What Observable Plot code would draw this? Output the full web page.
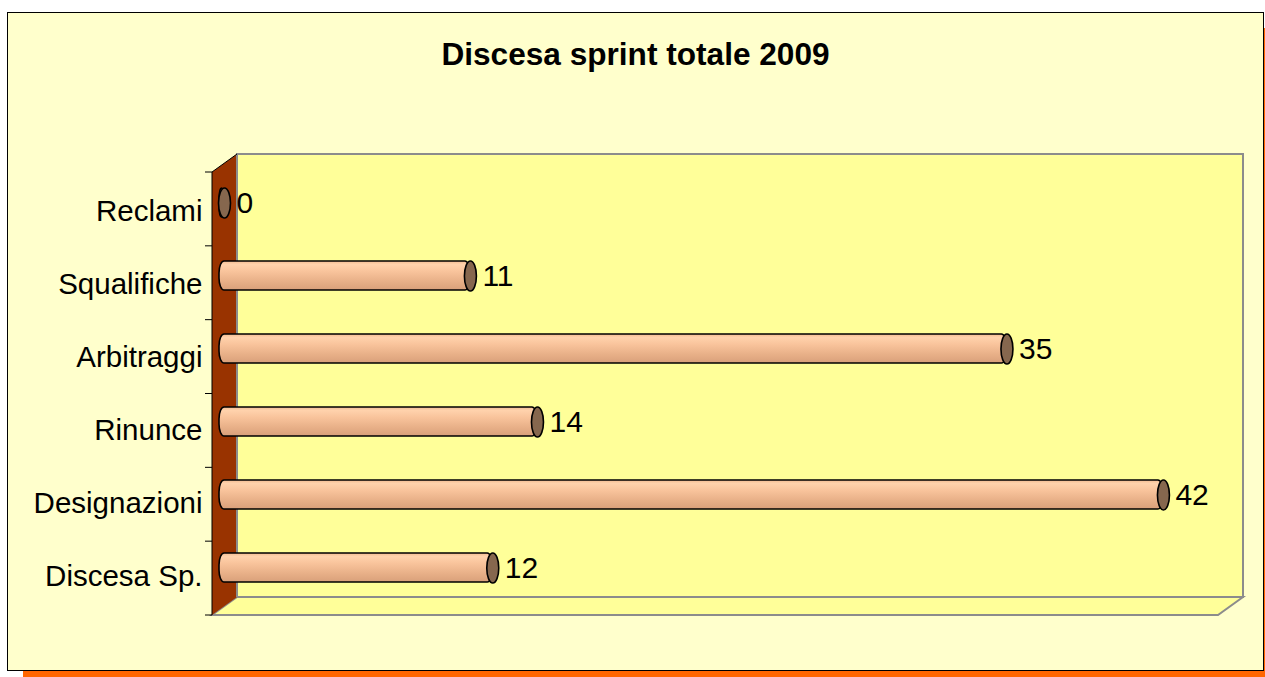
<!DOCTYPE html>
<html>
<head>
<meta charset="utf-8">
<script src="https://cdn.jsdelivr.net/npm/d3@7"></script>
<script src="https://cdn.jsdelivr.net/npm/@observablehq/plot@0.6"></script>
<style>
  html, body { margin: 0; padding: 0; background: #ffffff; }
  body { width: 1265px; height: 677px; overflow: hidden; position: relative; font-family: "Liberation Sans", Arial, sans-serif; }
  #box {
    position: absolute; left: 7px; top: 12px; width: 1255px; height: 657px;
    background: #FFFFCC; border: 1px solid #000; box-shadow: 16px 16px 0 #FF6600;
  }
  #title {
    position: absolute; left: 0; top: 25px; width: 1255px; text-align: center;
    font-size: 31.6px; font-weight: bold; line-height: 32px; color: #000;
  }
  #chart { position: absolute; left: 0; top: 87px; }
  #chart svg { overflow: visible; }
</style>
</head>
<body>
<div id="box">
  <div id="title">Discesa sprint totale 2009</div>
  <div id="chart"></div>
</div>
<script>
const categories = ["Reclami", "Squalifiche", "Arbitraggi", "Rinunce", "Designazioni", "Discesa Sp."];
const values = [0, 11, 35, 14, 42, 12];
const xMax = 45;

const data = categories.map((c, i) => ({cat: c, value: values[i]}));

const DEPTH_X = 25, DEPTH_Y = -18;   // 3D depth of the walls
const BAR_DX = 12, BAR_DY = -9;       // bars sit in the middle of the depth

// ellipse symbol for the cylinder caps
const capSymbol = {
  draw(ctx, size) {
    const rx = 6, ry = 15, k = 0.5523;
    ctx.moveTo(rx, 0);
    ctx.bezierCurveTo(rx, k * ry, k * rx, ry, 0, ry);
    ctx.bezierCurveTo(-k * rx, ry, -rx, k * ry, -rx, 0);
    ctx.bezierCurveTo(-rx, -k * ry, -k * rx, -ry, 0, -ry);
    ctx.bezierCurveTo(k * rx, -ry, rx, -k * ry, rx, 0);
    ctx.closePath();
  }
};

// walls, floor and gradient definition (drawn from the scales / frame)
function walls(index, scales, values, dim) {
  const g = d3.create("svg:g");
  const defs = g.append("defs");
  const grad = defs.append("linearGradient").attr("id", "cyl")
    .attr("x1", 0).attr("y1", 0).attr("x2", 0).attr("y2", 1);
  grad.append("stop").attr("offset", "0%").attr("stop-color", "#F2BC92");
  grad.append("stop").attr("offset", "12%").attr("stop-color", "#FFD2AC");
  grad.append("stop").attr("offset", "35%").attr("stop-color", "#F9C49C");
  grad.append("stop").attr("offset", "70%").attr("stop-color", "#E8B088");
  grad.append("stop").attr("offset", "100%").attr("stop-color", "#D9A07A");

  const x0 = scales.x(0), x1 = scales.x(xMax);
  const yT = dim.marginTop, yB = dim.height - dim.marginBottom;
  // back wall
  g.append("rect")
    .attr("x", x0 + DEPTH_X).attr("y", yT + DEPTH_Y)
    .attr("width", x1 - x0).attr("height", yB - yT)
    .attr("fill", "#FFFF99").attr("stroke", "#8c8c8c").attr("stroke-width", 2);
  // floor
  g.append("path")
    .attr("d", `M${x0},${yB}L${x1},${yB}L${x1 + DEPTH_X},${yB + DEPTH_Y}L${x0 + DEPTH_X},${yB + DEPTH_Y}Z`)
    .attr("fill", "#FFFF99").attr("stroke", "#8c8c8c").attr("stroke-width", 2);
  // left wall
  g.append("path")
    .attr("d", `M${x0},${yT}L${x0 + DEPTH_X},${yT + DEPTH_Y}L${x0 + DEPTH_X},${yB + DEPTH_Y}L${x0},${yB}Z`)
    .attr("fill", "#993300").attr("stroke", "none");
  g.append("path")
    .attr("d", `M${x0 + DEPTH_X},${yT + DEPTH_Y}L${x0 + DEPTH_X},${yB + DEPTH_Y}`)
    .attr("stroke", "#8c8c8c").attr("stroke-width", 2);
  g.append("path")
    .attr("d", `M${x0 + DEPTH_X},${yT + DEPTH_Y}L${x0},${yT}L${x0},${yB}`)
    .attr("fill", "none").attr("stroke", "#000").attr("stroke-width", 1);
  // category boundary ticks
  const step = (yB - yT) / categories.length;
  for (let i = 0; i <= categories.length; i++) {
    const y = yT + i * step;
    g.append("line").attr("x1", x0 - 7).attr("x2", x0).attr("y1", y).attr("y2", y)
      .attr("stroke", "#000").attr("stroke-width", 1);
  }
  return g.node();
}

const chart = Plot.plot({
  width: 1255,
  height: 560,
  marginLeft: 204,
  marginRight: 45,
  marginTop: 72,
  marginBottom: 45,
  style: {background: "transparent", fontFamily: "'Liberation Sans', Arial, sans-serif", color: "#000", overflow: "visible"},
  x: {domain: [0, xMax], axis: null},
  y: {domain: categories, padding: 0, label: null},
  marks: [
    walls,
    Plot.axisY({tickSize: 0, tickPadding: 10, fontSize: 29.5, label: null}),
    Plot.barX(data, {
      x: "value", y: "cat", fill: "url(#cyl)", stroke: "#000", strokeWidth: 1.6,
      insetTop: 22, insetBottom: 22, insetLeft: -5, rx: 5, ry: 12,
      dx: BAR_DX, dy: BAR_DY
    }),
    Plot.dot(data, {
      x: "value", y: "cat", symbol: capSymbol, r: 10,
      fill: "#86674E", stroke: "#000", strokeWidth: 1.6,
      dx: BAR_DX, dy: BAR_DY
    }),
    Plot.text(data, {
      x: "value", y: "cat", text: d => String(d.value), textAnchor: "start",
      fontSize: 30, fill: "#000", dx: BAR_DX + 12, dy: BAR_DY
    })
  ]
});
document.getElementById("chart").appendChild(chart);
</script>
</body>
</html>
